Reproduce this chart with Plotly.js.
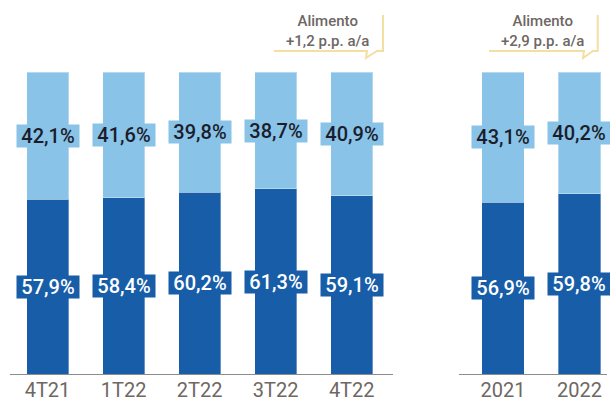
<!DOCTYPE html>
<html>
<head>
<meta charset="utf-8">
<script src="https://cdn.plot.ly/plotly-3.0.1.min.js"></script>
<style>html,body{margin:0;padding:0;background:#fff;}#chart{width:610px;height:401px;}</style>
</head>
<body>
<div id="chart"></div>
<script>
// ---- data ----
const quarters = ['4T21', '1T22', '2T22', '3T22', '4T22'];
const quarterDark = [57.9, 58.4, 60.2, 61.3, 59.1];
const quarterLight = [42.1, 41.6, 39.8, 38.7, 40.9];
const years = ['2021', '2022'];
const yearDark = [56.9, 59.8];
const yearLight = [43.1, 40.2];
const calloutTexts = ['Alimento<br>+1,2 p.p. a/a', 'Alimento<br>+2,9 p.p. a/a'];

// ---- style ----
const W = 610, H = 401;
const DARK = '#185DA8';
const LIGHT = '#8AC3E8';
const TICK = '#6E6764';
const CALLOUT = '#F4DFA3';
const px = x => x / W;
const py = y => (H - y) / H;
const fmt = v => v.toFixed(1).replace('.', ',') + '%';
const barW = 0.553;
const edge = {color: 'rgba(255,255,255,0.35)', width: 1};

const traces = [
  {type: 'bar', x: quarters, y: quarterDark, marker: {color: DARK, line: edge}, width: barW, xaxis: 'x', yaxis: 'y', hoverinfo: 'none'},
  {type: 'bar', x: quarters, y: quarterLight, marker: {color: LIGHT, line: edge}, width: barW, xaxis: 'x', yaxis: 'y', hoverinfo: 'none'},
  {type: 'bar', x: years, y: yearDark, marker: {color: DARK, line: edge}, width: barW, xaxis: 'x2', yaxis: 'y2', hoverinfo: 'none'},
  {type: 'bar', x: years, y: yearLight, marker: {color: LIGHT, line: edge}, width: barW, xaxis: 'x2', yaxis: 'y2', hoverinfo: 'none'}
];

const annotations = [];
function addLabels(cats, dark, light, xr, yr) {
  cats.forEach((c, i) => {
    annotations.push({x: i, y: dark[i] / 2, xref: xr, yref: yr, text: fmt(dark[i]), showarrow: false,
      bgcolor: DARK, width: 62, height: 22, borderpad: 0, xanchor: 'center', yanchor: 'middle',
      font: {family: 'Roboto', size: 20, color: '#ffffff', weight: 500}});
    annotations.push({x: i, y: dark[i] + light[i] / 2, xref: xr, yref: yr, text: fmt(light[i]), showarrow: false,
      bgcolor: LIGHT, width: 62, height: 22, borderpad: 0, xanchor: 'center', yanchor: 'middle',
      font: {family: 'Roboto', size: 20, color: '#1B1D2B', weight: 500}});
  });
}
addLabels(quarters, quarterDark, quarterLight, 'x', 'y');
addLabels(years, yearDark, yearLight, 'x2', 'y2');

annotations.push({x: px(327), y: py(31), xref: 'paper', yref: 'paper', xanchor: 'center', yanchor: 'middle',
  text: calloutTexts[0], showarrow: false, font: {family: 'Roboto', size: 15, color: TICK, weight: 500}, align: 'center'});
annotations.push({x: px(542), y: py(31), xref: 'paper', yref: 'paper', xanchor: 'center', yanchor: 'middle',
  text: calloutTexts[1], showarrow: false, font: {family: 'Roboto', size: 15, color: TICK, weight: 500}, align: 'center'});

function bubble(x0, x1, tailA, tailB, yb, ytop) {
  return `M${px(x0)},${py(yb)} L${px(tailA)},${py(yb)} L${px(tailA - 1)},${py(yb + 7)} L${px(tailB)},${py(yb)} L${px(x1)},${py(yb)} L${px(x1)},${py(ytop)}`;
}
const shapes = [
  {type: 'path', xref: 'paper', yref: 'paper', path: bubble(274, 383, 367, 377, 51, 15), line: {color: CALLOUT, width: 2}},
  {type: 'path', xref: 'paper', yref: 'paper', path: bubble(489, 597.7, 584, 593, 51, 15), line: {color: CALLOUT, width: 2}}
];

const yDomain = [py(374.3), py(72)];
const xCommon = {type: 'category', showline: true, linecolor: '#8C8C8C', linewidth: 1, ticks: '',
  showgrid: false, zeroline: false, automargin: false, ticklabelstandoff: -2,
  tickfont: {family: 'Roboto', size: 20, color: TICK}};
const layout = {
  width: W, height: H,
  margin: {l: 0, r: 0, t: 0, b: 0, pad: 0},
  paper_bgcolor: '#ffffff', plot_bgcolor: '#ffffff',
  barmode: 'stack', showlegend: false,
  xaxis: Object.assign({}, xCommon, {domain: [px(9.5), px(393)], range: [-0.5, 4.543], anchor: 'y'}),
  xaxis2: Object.assign({}, xCommon, {domain: [px(459.3), px(606.7)], range: [-0.571, 1.356], anchor: 'y2'}),
  yaxis: {domain: yDomain, range: [0, 100], visible: false, anchor: 'x'},
  yaxis2: {domain: yDomain, range: [0, 100], visible: false, anchor: 'x2'},
  annotations: annotations,
  shapes: shapes
};

Plotly.newPlot('chart', traces, layout, {staticPlot: true, displayModeBar: false});
</script>
</body>
</html>
